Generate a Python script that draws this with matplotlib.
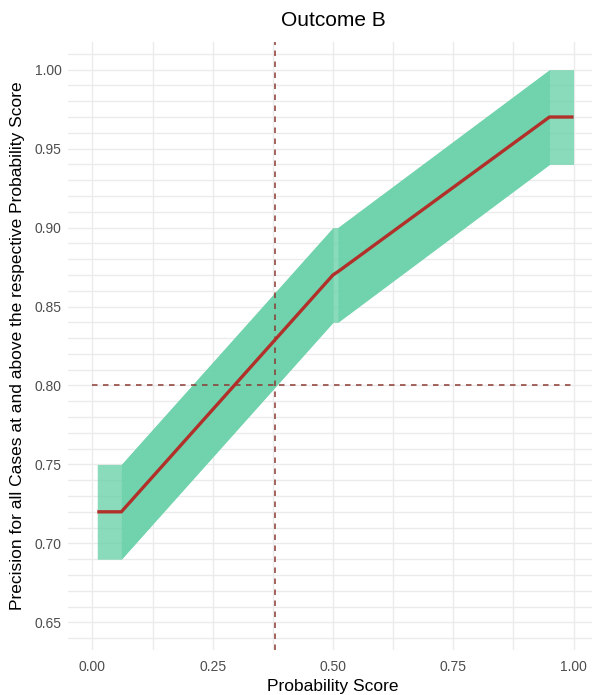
import matplotlib
matplotlib.use("Agg")
import matplotlib.pyplot as plt
import numpy as np

plt.rcParams.update({
    "font.family": ["Liberation Sans", "DejaVu Sans"],
})

# data
score = [0.01, 0.06, 0.50, 0.51, 0.95, 1.00]
precision = [0.72, 0.72, 0.87, 0.872, 0.97, 0.97]
lower = [0.69, 0.69, 0.84, 0.84, 0.94, 0.94]
upper = [0.75, 0.75, 0.90, 0.90, 1.00, 1.00]
cutoff_score = 0.38
target_precision = 0.80

x_ticks = [0.00, 0.25, 0.50, 0.75, 1.00]
y_ticks = [0.65, 0.70, 0.75, 0.80, 0.85, 0.90, 0.95, 1.00]

RIBBON = "#68D1A8"
LINE = "#B2302A"
REF = "#8C3A33"
GRID = "#EBEBEB"

W, H = 592, 695
fig = plt.figure(figsize=(W / 100, H / 100), dpi=100)
left, right, top, bottom = 68.4, 597.6, 42, 650
ax = fig.add_axes([left / W, 1 - bottom / H, (right - left) / W, (bottom - top) / H])

x = np.array(score)
lo = np.array(lower)
hi = np.array(upper)
# full ribbon, then the sloped stretches a second time (they look doubled)
ax.fill_between(x, lo, hi, color=RIBBON, alpha=0.78, linewidth=0, zorder=2)
for a, b in [(1, 2), (3, 4)]:
    ax.fill_between(x[a:b + 1], lo[a:b + 1], hi[a:b + 1], color=RIBBON,
                    alpha=0.72, linewidth=0, zorder=2)

ax.plot(score, precision, color=LINE, linewidth=2.4, solid_capstyle="butt", zorder=4)

ax.axvline(cutoff_score, color=REF, linewidth=1.1, dashes=(3.6, 3.6), zorder=3)
ax.plot([0, 1], [target_precision, target_precision], color=REF, linewidth=1.1,
        dashes=(3.6, 3.6), zorder=3)

ax.set_xlim(-0.05, 1.05)
ax.set_ylim(0.6325, 1.0175)
ax.set_xticks(x_ticks)
ax.set_xticklabels([f"{v:.2f}" for v in x_ticks])
ax.set_yticks(y_ticks)
ax.set_yticklabels([f"{v:.2f}" for v in y_ticks])
ax.set_xticks(np.arange(0.125, 1.0, 0.25), minor=True)
ax.set_yticks([v for v in np.arange(0.64, 1.011, 0.01)
               if min(abs(v - t) for t in y_ticks) > 0.001], minor=True)

ax.grid(True, which="both", color=GRID, linewidth=1.0, zorder=0)
ax.set_axisbelow(True)
for s in ax.spines.values():
    s.set_visible(False)
ax.tick_params(which="both", length=0)
ax.tick_params(axis="both", labelsize=10, labelcolor="#4D4D4D")
ax.tick_params(axis="x", pad=7)
ax.tick_params(axis="y", pad=5)

ax.set_xlabel("Probability Score", fontsize=12.5, labelpad=4)
ax.set_ylabel("Precision for all Cases at and above the respective Probability Score",
              fontsize=12.5, labelpad=7)
fig.text(333.5 / W, 1 - 21 / H, "Outcome B", ha="center", va="center", fontsize=15)

fig.savefig("out.png", dpi=100, facecolor="white")
